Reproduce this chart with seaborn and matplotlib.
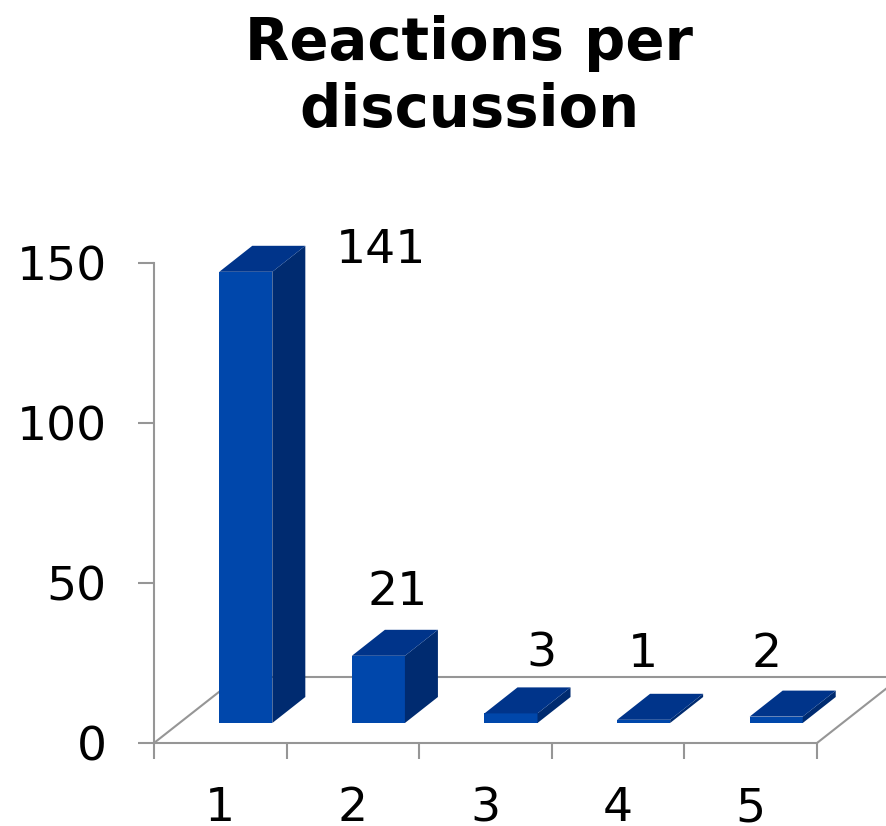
import matplotlib
matplotlib.use("Agg")
import matplotlib.pyplot as plt
import seaborn as sns
from matplotlib.lines import Line2D
from matplotlib.patches import Polygon
from matplotlib.transforms import Affine2D, IdentityTransform

categories = ["1", "2", "3", "4", "5"]
reactions = [141, 21, 3, 1, 2]
y_ticks = [0, 50, 100, 150]

FRONT = "#0047AB"
TOP = "#00348A"
SIDE = "#002B70"
GREY = "#969696"

# pixel offsets of the fake 3d look
SHIFT_X, SHIFT_Y = 25.5, 20
DEPTH_X, DEPTH_Y = 33, 26
FLOOR_X, FLOOR_Y = 84, 66
# the value labels sit oddly in the original, offset from the top of each bar
LABEL_DX = [135, 19, 30, -1, -10]
LABEL_DY = [21, 63, 59, 65, 62]

sns.set_theme(style="white")
W, H = 886, 826
fig = plt.figure(figsize=(W / 100, H / 100), dpi=100)
ax = fig.add_axes([154 / W, (H - 743) / H, (817 - 154) / W, 480 / H])

sns.barplot(x=categories, y=reactions, color=FRONT, saturation=1, width=0.4, linewidth=0, ax=ax, zorder=3)
ax.set_xlim(-0.5, 4.5)
ax.set_ylim(0, 150)

for sp in ["top", "right"]:
    ax.spines[sp].set_visible(False)
for sp in ["left", "bottom"]:
    ax.spines[sp].set_color(GREY)
    ax.spines[sp].set_linewidth(1.5)

ax.set_yticks(y_ticks)
ax.set_xticks([i - 0.5 for i in range(len(categories) + 1)])
ax.set_xticklabels([])
ax.set_xticks(range(len(categories)), labels=categories, minor=True)
ax.tick_params(axis="both", which="major", length=11.5, width=1.5, color=GREY, bottom=True, left=True)
ax.tick_params(axis="y", pad=22.5, labelsize=34, labelcolor="black")
ax.tick_params(axis="x", which="minor", length=0, pad=31, labelsize=34, labelcolor="black")

# floor, drawn in display pixels from the axes corners
(x0, y0), (x1, y1) = ax.transData.transform([(-0.5, 0), (4.5, 0)])
floor = [
    ([x0, x0 + FLOOR_X], [y0, y0 + FLOOR_Y]),
    ([x1, x1 + FLOOR_X], [y1, y1 + FLOOR_Y]),
    ([x0 + FLOOR_X, W], [y0 + FLOOR_Y, y0 + FLOOR_Y]),
]
for xs, ys in floor:
    fig.add_artist(Line2D(xs, ys, color=GREY, lw=1.5, transform=IdentityTransform(), zorder=-1))
ax.patch.set_visible(False)

shift = ax.transData + Affine2D().translate(SHIFT_X, SHIFT_Y)
for i, bar in enumerate(list(ax.patches)):
    bar.set_transform(shift)
    bar.set_clip_on(False)
    left = bar.get_x()
    right = left + bar.get_width()
    h = bar.get_height()
    (lx, by), (rx, ty) = shift.transform([(left, 0), (right, h)])
    side = [(rx, by), (rx + DEPTH_X, by + DEPTH_Y), (rx + DEPTH_X, ty + DEPTH_Y), (rx, ty)]
    top = [(lx, ty), (rx, ty), (rx + DEPTH_X, ty + DEPTH_Y), (lx + DEPTH_X, ty + DEPTH_Y)]
    ax.add_patch(Polygon(side, color=SIDE, lw=0, transform=IdentityTransform(), clip_on=False, zorder=3))
    ax.add_patch(Polygon(top, color=TOP, lw=0, transform=IdentityTransform(), clip_on=False, zorder=3))
    ax.annotate(str(reactions[i]), xy=(i, h), xycoords=shift, ha="center", va="center",
                xytext=(0.72 * LABEL_DX[i], 0.72 * LABEL_DY[i]), textcoords="offset points",
                fontsize=34, color="black", annotation_clip=False)

fig.text(469 / W, 1 - 77 / H, "Reactions per\ndiscussion", ha="center", va="center",
         fontsize=41.5, fontweight="bold", color="black", linespacing=1.22)

fig.savefig("out.png", dpi=100)
